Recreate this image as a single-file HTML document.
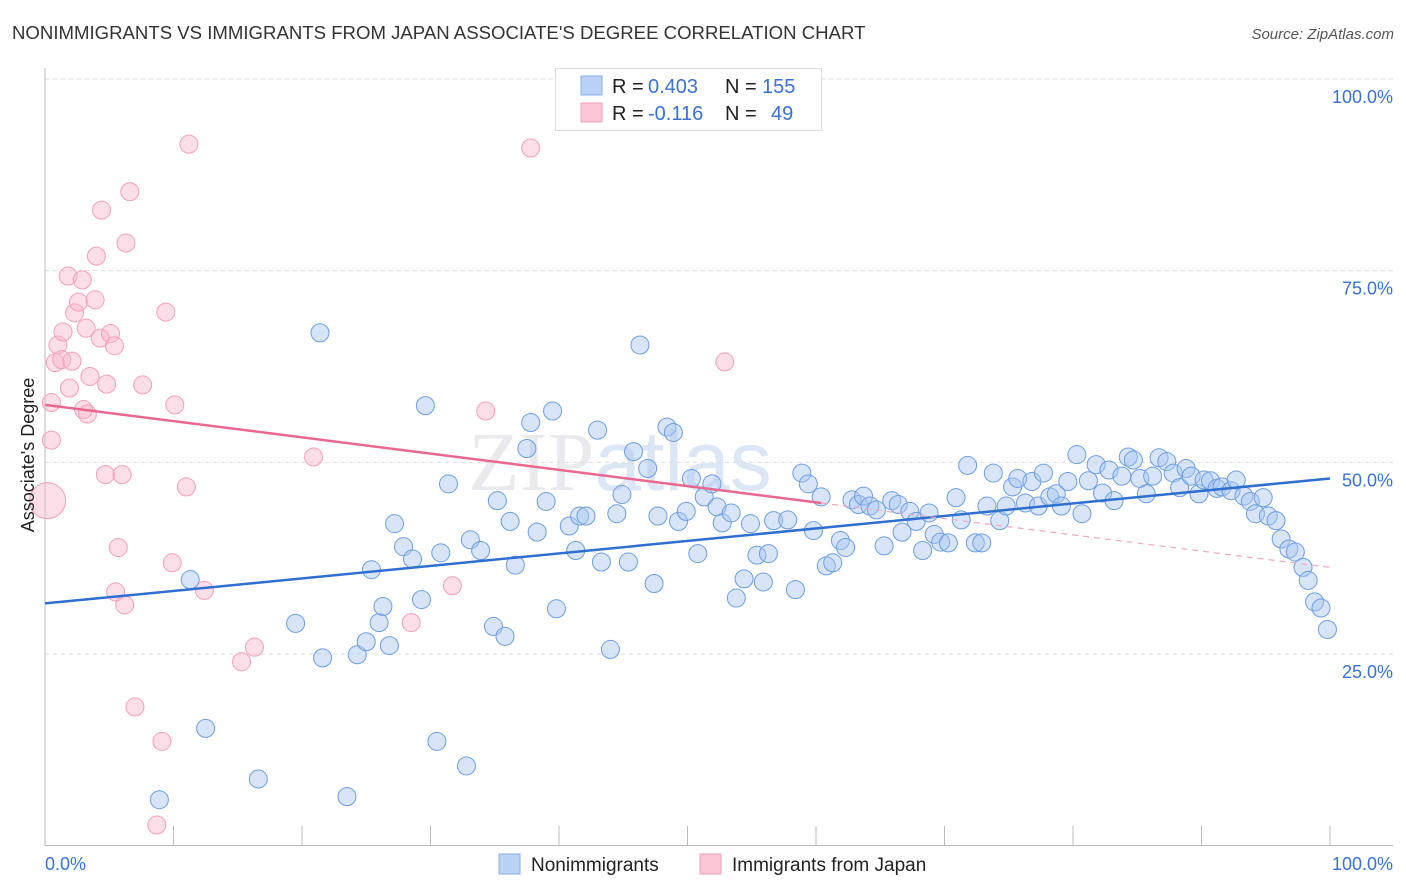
<!DOCTYPE html>
<html><head><meta charset="utf-8"><style>
body{margin:0;background:#fff;font-family:"Liberation Sans",sans-serif;}
svg{display:block}
</style></head><body>
<svg id="chart" width="1406" height="892">
<text x="12" y="39" font-size="18.6" fill="#333">NONIMMIGRANTS VS IMMIGRANTS FROM JAPAN ASSOCIATE'S DEGREE CORRELATION CHART</text>
<text x="1394" y="39" font-size="15" fill="#555" font-style="italic" text-anchor="end">Source: ZipAtlas.com</text>
<text x="620" y="490" font-size="84" fill="#e8eaee" text-anchor="middle" font-family="Liberation Serif">ZIP<tspan fill="#dde6f4" font-family="Liberation Sans">atlas</tspan></text>
<g id="grid"></g>
<g id="axes"></g>
<g id="pts"></g>
<g id="lines"></g>
<text transform="translate(34,455) rotate(-90)" font-size="18" fill="#222" text-anchor="middle">Associate's Degree</text>
<g>
<rect x="555.5" y="68.5" width="266" height="62" fill="#fff" stroke="#ddd"/>
<rect x="581" y="76" width="21" height="19" fill="#b9d2f5" stroke="#8ab0e8"/>
<rect x="581" y="103" width="21" height="19" fill="#fcc6d6" stroke="#f2a0bb"/>
<text x="612" y="93" font-size="20" fill="#222">R =</text>
<text x="648" y="93" font-size="20" fill="#3a72d0">0.403</text>
<text x="725" y="93" font-size="20" fill="#222">N =</text>
<text x="762" y="93" font-size="20" fill="#3a72d0">155</text>
<text x="612" y="120" font-size="20" fill="#222">R =</text>
<text x="648" y="120" font-size="20" fill="#3a72d0">-0.116</text>
<text x="725" y="120" font-size="20" fill="#222">N =</text>
<text x="771" y="120" font-size="20" fill="#3a72d0">49</text>
</g>
<g>
<rect x="499" y="854" width="21" height="20" fill="#b9d2f5" stroke="#8ab0e8"/>
<text x="531" y="871" font-size="19" fill="#222">Nonimmigrants</text>
<rect x="700" y="854" width="21" height="20" fill="#fcc6d6" stroke="#f2a0bb"/>
<text x="732" y="871" font-size="19" fill="#222">Immigrants from Japan</text>
</g>
</svg>
<script>
const blueX=[11.3,12.5,8.9,16.6,19.5,21.4,21.6,23.5,24.3,25.0,25.4,26.0,26.3,26.8,27.2,27.9,28.6,29.3,29.6,30.5,30.8,31.4,32.8,33.1,33.9,34.9,35.2,35.8,36.2,36.6,37.5,37.8,38.3,39.0,39.5,39.8,40.8,41.3,41.6,42.1,43.0,43.3,44.0,44.5,44.9,45.4,45.8,46.3,46.9,47.4,47.7,48.4,48.9,49.3,49.9,50.3,50.8,51.3,51.9,52.3,52.7,53.4,53.8,54.4,54.9,55.4,55.9,56.3,56.7,57.8,58.4,58.9,59.4,59.8,60.4,60.8,61.3,61.9,62.3,62.8,63.3,63.7,64.2,64.7,65.3,65.9,66.4,66.7,67.3,67.8,68.3,68.8,69.2,69.7,70.3,70.9,71.3,71.8,72.4,72.9,73.3,73.8,74.3,74.8,75.3,75.7,76.3,76.8,77.3,77.7,78.2,78.7,79.1,79.6,80.3,80.7,81.2,81.8,82.3,82.8,83.2,83.8,84.3,84.7,85.2,85.7,86.2,86.7,87.3,87.8,88.3,88.8,89.2,89.8,90.2,90.7,91.2,91.6,92.3,92.7,93.3,93.8,94.2,94.8,95.2,95.8,96.2,96.8,97.3,97.9,98.3,98.8,99.3,99.8];
const blueY=[34.7,15.3,6.0,8.7,29.0,66.9,24.5,6.4,24.9,26.6,36.0,29.1,31.2,26.1,42.0,39.0,37.4,32.1,57.4,13.6,38.2,47.2,10.4,39.9,38.5,28.6,45.0,27.3,42.3,36.6,51.8,55.2,40.9,44.9,56.7,30.9,41.7,38.5,43.0,43.0,54.2,37.0,25.6,43.3,45.8,37.0,51.4,65.3,49.2,34.2,43.0,54.6,53.9,42.3,43.6,47.9,38.1,45.5,47.2,44.2,42.1,43.4,32.3,34.8,42.0,37.9,34.4,38.1,42.4,42.5,33.4,48.6,47.2,41.1,45.5,36.5,36.9,39.8,38.9,45.1,44.5,45.6,44.3,43.8,39.1,45.0,44.5,40.9,43.6,42.3,38.5,43.4,40.6,39.6,39.5,45.4,42.5,49.6,39.5,39.5,44.3,48.6,42.4,44.3,46.8,47.9,44.7,47.5,44.3,48.6,45.5,45.9,44.3,47.5,51.0,43.3,47.6,49.7,46.0,49.0,45.0,48.2,50.7,50.3,47.9,45.9,48.2,50.6,50.1,48.6,46.7,49.2,48.2,45.9,47.7,47.6,46.6,46.8,46.3,47.7,45.6,44.9,43.3,45.4,43.0,42.4,40.0,38.7,38.3,36.3,34.6,31.8,31.0,28.2];
const pinkX=[0.2,0.5,0.5,0.8,1.0,1.4,1.3,1.8,1.9,2.1,2.3,2.6,2.9,3.0,3.2,3.3,3.5,3.9,4.0,4.3,4.4,4.7,4.8,5.1,5.4,5.7,5.5,6.0,6.2,6.3,6.6,7.0,7.6,9.1,8.7,9.4,9.9,10.1,11.0,11.2,12.4,15.3,16.3,20.9,28.5,31.7,34.3,37.8,52.9];
const pinkY=[45.0,52.9,57.8,63.0,65.3,67.0,63.4,74.3,59.7,63.2,69.5,70.9,73.8,56.9,67.5,56.3,61.2,71.2,76.9,66.2,82.9,48.4,60.2,66.8,65.2,38.9,33.1,48.4,31.4,78.6,85.3,18.1,60.1,13.6,2.7,69.6,36.9,57.5,46.8,91.5,33.3,24.0,25.9,50.7,29.1,33.9,56.7,91.0,63.1];
const blueTrend=[31.6,47.9];
const pinkTrend=[57.5,36.3];
const pinkSolidEnd=60.4;
const yTicks=[25,50,75,100];
const yTickLabels=["25.0%","50.0%","75.0%","100.0%"];
const xTicks=[0,10,20,30,40,50,60,70,80,90,100];

const NS="http://www.w3.org/2000/svg";
const X=v=>45+v*12.85;
const Y=v=>845.7-v*7.667;
function mk(tag,attrs,parent){const e=document.createElementNS(NS,tag);for(const k in attrs)e.setAttribute(k,attrs[k]);document.getElementById(parent).appendChild(e);return e;}
yTicks.forEach((t,i)=>{
  const g=mk('line',{x1:45,x2:1393,y1:Y(t),y2:Y(t),stroke:'#ddd','stroke-dasharray':'4,4'},'grid');
  
  
  const l=mk('text',{x:1393,y:Y(t)+24,'font-size':18,fill:'#3a72d0','text-anchor':'end'},'grid');
  l.textContent=yTickLabels[i];
  
  
});
{const a=mk('line',{x1:45,x2:45,y1:68,y2:846,stroke:'#bbb'},'axes');


const b=mk('line',{x1:45,x2:1393,y1:845.5,y2:845.5,stroke:'#bbb'},'axes');

}
xTicks.forEach(t=>{
  const e=mk('line',{x1:X(t),x2:X(t),y1:826,y2:846,stroke:'#bbb'},'axes');
  
  
});
[[0,'0.0%','start',45],[100,'100.0%','end',1393]].forEach(d=>{
  const e=mk('text',{x:d[3],y:870,'font-size':18,fill:'#3a72d0','text-anchor':d[2]},'axes');
  e.textContent=d[1];
  
  
});
pinkX.forEach((v,i)=>{
  const c=mk('circle',{cx:X(v),cy:Y(pinkY[i]),r:i===0?18:9,fill:'rgba(248,182,204,0.45)',stroke:'#f2a0bb','stroke-width':1},'pts');
  
  
});
blueX.forEach((v,i)=>{
  const c=mk('circle',{cx:X(v),cy:Y(blueY[i]),r:9,fill:'rgba(168,198,242,0.45)',stroke:'#6e9ee2','stroke-width':1},'pts');
  
  
});
const pAt=x=>pinkTrend[0]+(pinkTrend[1]-pinkTrend[0])*x/100;
{const l=mk('line',{x1:X(0),y1:Y(blueTrend[0]),x2:X(100),y2:Y(blueTrend[1]),stroke:'#2f6fd0','stroke-width':2.5},'lines');


const p=mk('line',{x1:X(0),y1:Y(pAt(0)),x2:X(pinkSolidEnd),y2:Y(pAt(pinkSolidEnd)),stroke:'#e8688f','stroke-width':2.5},'lines');


const d=mk('line',{x1:X(pinkSolidEnd),y1:Y(pAt(pinkSolidEnd)),x2:X(100),y2:Y(pAt(100)),stroke:'#eeaabf','stroke-width':1.2,'stroke-dasharray':'6,5'},'lines');

}
</script>
</body></html>
